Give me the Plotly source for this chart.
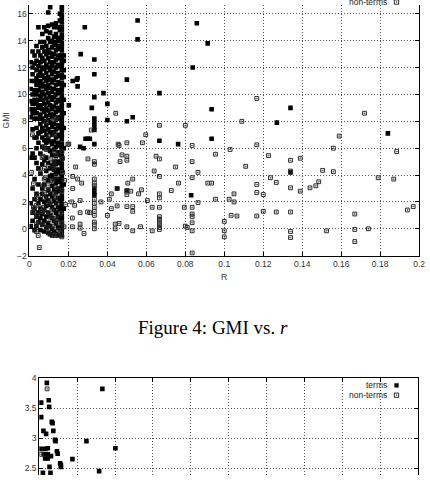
import plotly.graph_objects as go

# ---------------- Top chart (GMI vs R) ----------------
# dense cluster of "terms" near R=0..0.018, given per R column: R value -> GMI values
cluster_term_r = [.0006, .0016, .0026, .0036, .0046, .0056, .0066, .0076, .0086, .0096,
                  .0106, .0116, .0126, .0136, .0146, .0156, .0166, .0176]
cluster_term_gmi = [
    [12.4, 11.0, 10.4, 9.5, 8.9, 8.3, 5.3, 1.9, 0.2],
    [13.2, 12.0, 11.5, 10.0, 9.3, 8.6, 7.4, 5.6, 3.0, 1.2, 0.6],
    [12.9, 12.3, 11.0, 10.3, 9.6, 8.9, 8.2, 6.8, 5.3, 3.7, 2.2, 1.5, -0.1],
    [13.6, 12.5, 11.8, 11.2, 10.7, 10.0, 9.3, 8.6, 7.5, 6.8, 6.0, 4.9, 2.6, 0.9, 0.2],
    [15.0, 13.2, 12.1, 11.4, 10.9, 10.3, 9.6, 9.0, 8.2, 7.1, 6.4, 4.5, 3.3, 1.9, 1.2, 0.5],
    [13.9, 12.9, 12.4, 11.7, 11.0, 10.6, 9.9, 9.2, 8.5, 7.8, 7.2, 5.6, 4.1, 2.2, 1.5, 0.8, -0.1],
    [14.5, 13.5, 12.7, 12.0, 11.4, 10.8, 10.2, 9.6, 8.9, 8.2, 7.5, 6.8, 6.1, 4.8, 3.0, 2.6, 1.1, 0.3],
    [15.0, 13.9, 13.2, 12.5, 11.9, 11.2, 10.6, 10.0, 9.3, 8.7, 8.0, 7.3, 6.6, 6.0, 5.1, 3.3, 2.0,
     1.4, 0.6, -0.2],
    [14.7, 13.6, 13.0, 12.2, 11.6, 11.0, 10.4, 9.7, 9.0, 8.4, 7.7, 7.0, 6.4, 5.3, 4.3, 2.4, 1.7,
     0.9, 0.1],
    [16.1, 15.1, 14.2, 13.3, 12.7, 12.0, 11.3, 10.7, 10.1, 9.4, 8.8, 8.1, 7.4, 6.7, 6.0, 4.9, 3.6,
     2.9, 2.1, 1.2, 0.4, -0.3],
    [16.5, 14.6, 13.9, 13.1, 12.4, 11.8, 11.1, 10.5, 9.8, 9.2, 8.5, 7.9, 7.2, 6.5, 5.8, 4.5, 3.9,
     2.6, 1.8, 1.0, 0.2, -0.4],
    [15.2, 14.0, 13.5, 12.8, 12.1, 11.5, 10.9, 10.2, 9.6, 8.9, 8.3, 7.6, 7.0, 6.3, 5.5, 4.7, 4.0,
     3.2, 2.4, 1.6, 0.8, 0.0, -0.5],
    [15.0, 14.3, 13.7, 13.0, 12.4, 11.7, 11.1, 10.4, 9.8, 9.1, 8.5, 7.8, 7.2, 6.5, 5.9, 5.0, 4.4,
     3.7, 2.9, 2.1, 1.4, 0.6, -0.2],
    [15.3, 14.5, 13.9, 13.3, 12.6, 12.0, 11.3, 10.7, 10.0, 9.4, 8.7, 8.1, 7.4, 6.8, 6.1, 5.4, 4.8,
     4.1, 3.4, 2.7, 1.9, 1.2, 0.4, -0.4],
    [15.0, 14.2, 13.6, 12.9, 12.2, 11.6, 10.9, 10.3, 9.6, 9.0, 8.3, 7.7, 7.0, 6.4, 5.7, 5.0, 4.4,
     3.7, 3.0, 2.3, 1.6, 0.9, 0.1, -0.5],
    [16.0, 15.5, 14.8, 14.0, 13.4, 12.7, 12.1, 11.4, 10.8, 10.1, 9.5, 8.8, 8.2, 7.5, 6.9, 6.2, 5.5,
     4.9, 4.2, 3.5, 2.8, 2.1, 1.4, 0.7, 0.0],
    [16.9, 16.55, 16.3, 15.95, 15.7, 15.4, 15.05, 14.8, 14.45, 14.2, 13.85, 13.6, 13.3, 12.95, 12.7,
     12.35, 12.1, 11.8, 11.45, 11.2, 10.85, 10.6, 10.3, 9.95, 9.7, 9.35, 9.1, 8.8, 8.45, 8.2, 7.85,
     7.6, 7.3, 6.95, 6.7, 6.35, 6.1, 5.8, 5.45, 5.2, 4.85, 4.6, 4.3, 3.95, 3.7, 3.35, 3.1, 2.8,
     2.45, 2.2, 1.85, 1.6, 1.3, 0.95, 0.7, 0.35, 0.1, -0.2, -0.5],
    [12.9, 12.5, 11.8, 11.3, 10.7, 9.6, 8.6, 7.5, 6.0, 3.3, 1.5],
]

# remaining "terms" points
term_r = [.0284, .0555, .0555, .0859, .0915, .0263, .0333, .0333, .0838, .0222, .0247, .0247, .0500,
          .0380, .0667, .0333, .0202, .0320, .0400, .0935, .0400, .0500, .0530, .0333, .0333, .0333,
          .0300, .0935, .0667, .1340, .1270, .1840, .1340, .0288, .0260, .0278, .0333, .0310, .0763,
          .0333, .0333, .0333, .0500, .0450, .0830, .0243, .0333]
term_gmi = [15.0, 15.5, 14.1, 15.3, 13.8, 13.0, 12.6, 11.5, 12.0, 11.0, 11.2, 10.6, 11.1,
            10.1, 10.1, 9.8, 9.2, 9.0, 9.3, 8.9, 8.1, 8.0, 8.3, 8.2, 7.9, 7.6,
            6.7, 6.7, 6.55, 9.0, 7.9, 7.1, 4.2, 6.7, 6.1, 6.0, 6.3, 6.7, 6.3,
            2.7, 3.0, 2.5, 2.85, 3.0, 2.5, 11.1, 7.35]

# "non-terms" points
nonterm_r = [.0015, .0136, .0086, .0126, .0076, .0086, .0070, .0110, .0126, .0056, .0096, .0010, .0130,
             .0197, .0170, .0020, .0045, .0035, .0020, .0035, .0050, .0076, .0096, .0120, .0136, .0076,
             .0126, .0110, .0070, .0110, .0050, .0070, .0100, .0126, .0160, .0096, .0146, .0177, .0160,
             .0126, .0035, .0020, .0040, .0035, .0045, .0065, .0076, .0110, .0096, .0136, .0126, .0136,
             .0136, .0081, .0056, .0070, .0076, .0101, .0136, .0131, .0166, .0166, .0166, .0170, .0130,
             .0100, .0166, .0060, .0085, .0115, .0145, .0090, .0120, .0150, .0185, .0180,
             .0202, .0237, .0222, .0247, .0268, .0222, .0300, .0333, .0333, .0333, .0333, .0333, .0333,
             .0333, .0333, .0333, .0333, .0333, .0333, .0333, .0260, .0217, .0232, .0220, .0260, .0298,
             .0310, .0260, .0220, .0280, .0260, .0367, .0410, .0400, .0420, .0450, .0440, .0440, .0460,
             .0500, .0530, .0570, .0500, .0530, .0530, .0505, .0530, .0500, .0500, .0520, .0560, .0575,
             .0450, .0420, .0460, .0455, .0500, .0475, .0500, .0500, .0465, .0580, .0597, .0650, .0667,
             .0640, .0667, .0605, .0630, .0667, .0667, .0667, .0667, .0667, .0667, .0667, .0667, .0667,
             .0630, .0728, .0750, .0765, .0795, .0835, .0835, .0835, .0835, .0835, .0835, .0835, .0835,
             .0800, .0810, .0835, .0865, .0865, .0915, .0935, .0443, .0317, .0667, .0800, .1167, .1090,
             .1720, .1590, .0955, .1030, .1167, .1227, .1110, .1340, .1390, .1560, .1885, .1505, .1560,
             .1790, .1870, .1237, .1267, .1340, .1390, .1440, .1470, .1485, .1167, .1167, .1200, .0955,
             .1025, .1050, .1050, .1035, .1065, .1000, .1000, .1000, .1167, .1200, .1267, .1340, .1340,
             .1340, .1525, .1670, .1670, .1740, .1670, .1940, .1970, .1340]
nonterm_gmi = [7.0, 8.2, 7.95, 8.1, 6.1, 5.9, 5.4, 5.2, 4.9, 4.5, 4.65, 4.2, 5.75,
               6.3, 5.25, 3.35, 2.5, 1.75, 1.25, -0.2, -1.4, 3.7, 3.2, 3.55, 3.05, 2.7,
               2.6, 2.0, 1.6, 1.0, 0.45, 0.3, -0.3, -0.45, -0.3, 0.65, 0.5, 0.15, 1.15,
               0.65, 2.3, 1.6, 1.0, 0.35, -0.5, 5.3, 4.5, 3.6, 2.85, 5.5, 4.5, 3.9,
               2.3, 3.8, 4.1, 3.2, 2.3, 1.9, 0.8, -0.5, -0.6, 0.45, 2.85, 4.2, 7.0,
               6.9, 5.75, 1.3, 1.2, 1.4, 1.9, 0.1, 0.2, -0.1, 1.8, 3.6,
               6.3, 4.6, 3.9, 3.7, 3.4, 3.0, 5.2, 5.0, 4.8, 3.7, 3.4, 3.2, 2.2,
               1.9, 1.6, 1.3, 1.0, 0.5, 0.3, 0.0, 2.1, 2.0, 1.75, 0.8, 1.2, 1.25,
               1.2, 0.35, 0.15, -0.35, 0.05, 2.0, 2.2, 1.0, 1.5, 1.7, 0.35, 0.0, 0.4,
               0.15, -0.15, 0.15, 1.65, 1.65, 1.3, 3.4, 3.7, 2.8, 2.55, 2.8, 2.6, 2.9,
               3.0, 2.6, 6.2, 6.3, 6.4, 5.5, 5.4, 5.1, 5.0, 6.4, 7.0, 5.4, 5.2,
               4.3, 3.9, 2.1, 1.6, 2.6, 2.3, 1.6, 0.9, 0.7, 0.5, 0.3, 0.1, -0.05,
               -0.15, 2.85, 4.6, 3.4, 1.6, 6.2, 5.0, 3.8, 1.6, 1.1, 0.9, 0.45, -0.15,
               0.2, 0.1, -1.8, 4.2, 1.95, 3.4, 3.4, 8.6, 7.35, 7.7, 7.7, 9.7, 8.0,
               8.6, 6.9, 5.55, 5.9, 6.25, 5.45, 4.65, 5.1, 5.25, 6.0, 5.75, 4.35, 4.25,
               3.8, 3.7, 3.8, 3.45, 3.05, 2.8, 3.05, 3.2, 3.5, 3.3, 2.7, 2.55, 2.2,
               2.2, 2.6, 2.0, 1.0, 0.95, 0.55, -0.15, -0.6, 0.95, 1.3, 1.25, 1.25, -0.2,
               -0.65, -0.15, 1.1, -0.05, 0.0, -0.95, 1.4, 1.65, 4.3]

# ---------------- Bottom chart (partially visible) ----------------
term2_r = [.0040, .0333, .0050, .0010, .0052, .0010, .0066, .0070, .0022, .0036, .0074, .0083, .0086,
           .0249, .0402, .0007, .0031, .0045, .0093, .0097, .0024, .0045, .0062, .0031, .0045, .0175,
           .0110, .0114, .0114, .0054, .0316, .0059, .0019]
term2_val = [3.92, 3.82, 3.63, 3.59, 3.52, 3.35, 3.27, 3.25, 3.12, 3.07, 3.12, 2.97, 2.95,
             2.95, 2.83, 2.82, 2.82, 2.83, 2.78, 2.74, 2.73, 2.73, 2.70, 2.66, 2.66, 2.65,
             2.58, 2.55, 2.52, 2.52, 2.45, 2.42, 2.42]
nonterm2_r = [.0041, .0010]
nonterm2_val = [3.82, 2.73]

x_ticks = [0, 0.02, 0.04, 0.06, 0.08, 0.1, 0.12, 0.14, 0.16, 0.18, 0.2]
x_ticklabels = ["0", "0.02", "0.04", "0.06", "0.08", "0.1", "0.12", "0.14", "0.16", "0.18", "0.2"]
y_ticks = [-2, 0, 2, 4, 6, 8, 10, 12, 14, 16, 18]
y2_ticks = [2.5, 3, 3.5, 4]
y2_ticklabels = ["2.5", "3", "3.5", "4"]

# flatten cluster columns
all_term_r, all_term_gmi = [], []
for r, gs in zip(cluster_term_r, cluster_term_gmi):
    for g in gs:
        all_term_r.append(r)
        all_term_gmi.append(g)
all_term_r += term_r
all_term_gmi += term_gmi

W, H = 430, 480
def px(x): return x / W
def py(y): return 1 - y / H

TERM = dict(symbol="square", size=4.6, color="black", line=dict(width=0))
NONTERM = dict(symbol="square-open-dot", size=3.8, color="#2a2a2a", line=dict(width=1))

fig = go.Figure()
fig.add_trace(go.Scatter(x=all_term_r, y=all_term_gmi, mode="markers", marker=TERM,
                         xaxis="x", yaxis="y", showlegend=False, hoverinfo="skip"))
fig.add_trace(go.Scatter(x=nonterm_r, y=nonterm_gmi, mode="markers", marker=NONTERM,
                         xaxis="x", yaxis="y", showlegend=False, hoverinfo="skip"))
fig.add_trace(go.Scatter(x=term2_r, y=term2_val, mode="markers", marker=TERM,
                         xaxis="x2", yaxis="y2", showlegend=False, hoverinfo="skip"))
fig.add_trace(go.Scatter(x=nonterm2_r, y=nonterm2_val, mode="markers", marker=NONTERM,
                         xaxis="x2", yaxis="y2", showlegend=False, hoverinfo="skip"))

tickfont = dict(family="Liberation Sans, Arial, sans-serif", size=8.5, color="#333333")
grid = dict(showgrid=True, gridcolor="#555555", griddash="1px,2px", gridwidth=1, zeroline=False)
XR = [0, 0.20001]

fig.update_layout(
    width=W, height=H, margin=dict(l=0, r=0, t=0, b=0),
    paper_bgcolor="white", plot_bgcolor="white",
    xaxis=dict(domain=[px(28), px(425)], range=XR, tickvals=x_ticks, ticktext=x_ticklabels,
               anchor="y", showline=True, linecolor="black", linewidth=1, mirror=False,
               ticks="inside", ticklen=4, tickcolor="black", tickfont=tickfont,
               ticklabeloverflow="allow", **grid),
    yaxis=dict(domain=[py(256), 1], range=[-2, 16.656], tickvals=y_ticks, anchor="x",
               showline=True, linecolor="black", linewidth=1, mirror="ticks",
               ticks="inside", ticklen=4, tickcolor="black", tickfont=tickfont,
               ticklabeloverflow="allow", **grid),
    xaxis2=dict(domain=[px(38), px(424)], range=XR, tickvals=x_ticks, anchor="y2", side="top",
                showline=True, linecolor="black", linewidth=1, mirror=False, showticklabels=False,
                ticks="inside", ticklen=4, tickcolor="black", **grid),
    yaxis2=dict(domain=[0, py(381)], range=[2.385, 4], tickvals=y2_ticks, ticktext=y2_ticklabels,
                anchor="x2", showline=True, linecolor="black", linewidth=1, mirror="ticks",
                ticks="inside", ticklen=4, tickcolor="black", tickfont=tickfont,
                ticklabeloverflow="allow", **grid),
)

ann_font = dict(family="Liberation Sans, Arial, sans-serif", size=8.5, color="#333333")
leg_font = dict(family="Liberation Sans, Arial, sans-serif", size=8.5, color="#222222")
annotations = [
    dict(text="R", x=px(226), y=py(278), xref="paper", yref="paper", showarrow=False,
         xanchor="center", yanchor="middle", font=ann_font),
    dict(text="GMI", x=px(4), y=py(118), xref="paper", yref="paper", showarrow=False, textangle=-90,
         xanchor="center", yanchor="middle", font=ann_font),
    dict(text="Figure 4: GMI vs. <i>r</i>", x=px(215), y=py(329), xref="paper", yref="paper",
         showarrow=False, xanchor="center", yanchor="middle",
         font=dict(family="Liberation Serif, Times New Roman, serif", size=19, color="black")),
    dict(text="terms", x=px(393), y=py(388.5), xref="paper", yref="paper", showarrow=False,
         xanchor="right", yanchor="middle", font=leg_font, borderpad=0),
    dict(text="non-terms", x=px(393), y=py(398.5), xref="paper", yref="paper", showarrow=False,
         xanchor="right", yanchor="middle", font=leg_font, borderpad=0),
    dict(text="non-terms", x=px(393), y=py(-3), xref="paper", yref="paper", showarrow=False,
         xanchor="right", yanchor="middle", font=leg_font, borderpad=0),
]
fig.update_layout(annotations=annotations)

# legend keys
shapes = []
def key_filled(cx, cy):
    shapes.append(dict(type="rect", xref="paper", yref="paper", x0=px(cx - 2.2), x1=px(cx + 2.2),
                       y0=py(cy + 2.2), y1=py(cy - 2.2), fillcolor="black", line=dict(width=0)))
def key_open(cx, cy):
    shapes.append(dict(type="rect", xref="paper", yref="paper", x0=px(cx - 2.2), x1=px(cx + 2.2),
                       y0=py(cy + 2.2), y1=py(cy - 2.2), fillcolor="rgba(0,0,0,0)",
                       line=dict(width=1, color="#2a2a2a")))
    shapes.append(dict(type="rect", xref="paper", yref="paper", x0=px(cx - 0.6), x1=px(cx + 0.6),
                       y0=py(cy + 0.6), y1=py(cy - 0.6), fillcolor="#2a2a2a", line=dict(width=0)))
key_filled(402, 388.5)
key_open(402, 398.5)
key_open(402, -3)
fig.update_layout(shapes=shapes)

fig.write_html("out.html")
